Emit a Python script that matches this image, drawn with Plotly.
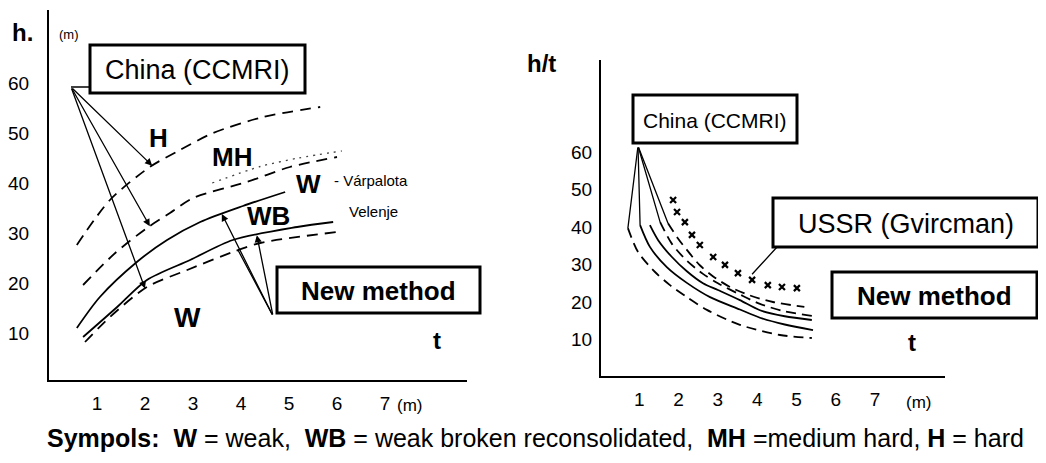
import numpy as np
import plotly.graph_objects as go

W, H = 1046, 463
OFF = 8                      # default page margin of the html body
FW, FH = W - OFF, H - OFF    # figure size so that it fills the window

# ---------------- data ----------------
x_tick_vals = [1, 2, 3, 4, 5, 6, 7]
y_tick_vals = [10, 20, 30, 40, 50, 60]

# left panel : h [m] against t [m]
left_H_x = [0.58, 1.27, 2.10, 2.73, 3.42, 4.46, 5.65]
left_H_y = [27.6, 36.6, 43.2, 46.6, 50.0, 53.2, 55.2]
left_MH_x = [0.71, 1.38, 2.04, 2.52, 3.00, 4.12, 5.02, 6.00]
left_MH_y = [19.6, 26.0, 31.0, 34.0, 37.0, 40.2, 43.2, 45.2]
left_Varpalota_x = [3.4, 4.4, 5.2, 6.1]
left_Varpalota_y = [40.0, 43.3, 45.0, 46.4]
left_WB_x = [0.58, 1.06, 1.83, 2.46, 3.15, 4.04, 4.92]
left_WB_y = [11.0, 17.2, 24.2, 28.6, 32.2, 35.4, 38.2]
left_W_x = [0.71, 1.42, 2.04, 2.94, 3.83, 5.17, 5.92]
left_W_y = [9.2, 15.2, 20.6, 24.6, 28.6, 31.2, 32.2]
left_Velenje_x = [0.75, 1.27, 2.04, 2.88, 3.83, 4.40, 6.00]
left_Velenje_y = [8.2, 13.2, 19.2, 22.6, 26.2, 28.0, 30.2]

# right panel : h/t against t [m]
right_USSR_x = [1.86, 1.96, 2.16, 2.34, 2.54, 2.88, 3.18, 3.51, 3.87, 4.27, 4.63, 5.01]
right_USSR_y = [47.2, 44.0, 41.3, 37.9, 35.2, 32.0, 29.9, 27.7, 25.9, 24.5, 24.0, 23.7]
right_D1_x = [1.73, 1.98, 2.21, 2.54, 2.88, 3.31, 3.80, 4.40, 5.20]
right_D1_y = [41.0, 37.0, 33.9, 29.8, 26.8, 24.0, 21.8, 20.0, 18.7]
right_D2_x = [1.53, 1.83, 2.21, 2.62, 3.00, 3.56, 4.07, 4.70, 5.40]
right_D2_y = [41.3, 35.5, 31.0, 27.5, 25.0, 22.0, 19.5, 17.5, 16.3]
right_S3_x = [1.27, 1.48, 1.83, 2.21, 2.62, 3.00, 3.56, 4.07, 4.70, 5.39]
right_S3_y = [40.5, 36.5, 32.0, 28.2, 25.0, 23.2, 20.5, 17.8, 16.2, 15.2]
right_S4_x = [1.02, 1.27, 1.70, 2.21, 2.80, 3.56, 4.07, 4.70, 5.42]
right_S4_y = [40.5, 34.7, 29.3, 25.1, 21.3, 18.0, 15.8, 14.0, 12.5]
right_D5_x = [0.71, 0.97, 1.40, 1.78, 2.21, 2.72, 3.56, 4.58, 5.39]
right_D5_y = [39.7, 33.3, 28.0, 24.5, 21.3, 17.9, 13.9, 11.2, 10.4]

# ---------------- layout helpers ----------------
FONT = "Liberation Sans, Arial, sans-serif"
TICKFONT = "Liberation Sans, Arial, sans-serif"


def fx(px):
    return (px - OFF) / FW


def fy(py):
    return 1 - (py - OFF) / FH


# pixel <-> data scales of the two panels
L_X0, L_XS, L_Y0, L_YS = 49, 48.0, 383, 5.0
R_X0, R_XS, R_Y0, R_YS = 600, 39.3, 377, 3.75


def l_data(px, py):
    return (px - L_X0) / L_XS, (L_Y0 - py) / L_YS


def r_data(px, py):
    return (px - R_X0) / R_XS, (R_Y0 - py) / R_YS


def on_curve(xs, ys, x):
    return x, float(np.interp(x, xs, ys))


fig = go.Figure()

DASH_L = "11px,7px"
DASH_R = "10px,6px"


def line(xs, ys, ax, dash="solid", width=1.8, color="black"):
    fig.add_trace(go.Scatter(
        x=xs, y=ys, mode="lines", xaxis=ax[0], yaxis=ax[1],
        line=dict(color=color, width=width, dash=dash, shape="spline", smoothing=0.8),
        hoverinfo="skip", showlegend=False))


LA = ("x", "y")
RA = ("x2", "y2")
line(left_H_x, left_H_y, LA, DASH_L)
line(left_MH_x, left_MH_y, LA, DASH_L)
line(left_Varpalota_x, left_Varpalota_y, LA, "2px,5px", 1.3, "#444")
line(left_WB_x, left_WB_y, LA)
line(left_W_x, left_W_y, LA)
line(left_Velenje_x, left_Velenje_y, LA, DASH_L)

line(right_D1_x, right_D1_y, RA, DASH_R)
line(right_D2_x, right_D2_y, RA, DASH_R)
line(right_S3_x, right_S3_y, RA)
line(right_S4_x, right_S4_y, RA)
line(right_D5_x, right_D5_y, RA, DASH_R)
fig.add_trace(go.Scatter(
    x=right_USSR_x, y=right_USSR_y, mode="markers", xaxis="x2", yaxis="y2",
    marker=dict(symbol="x-thin", size=6, line=dict(color="black", width=2.2)),
    hoverinfo="skip", showlegend=False))

annotations = []
shapes = []


def leader(tip, tail, xref, yref, head=True):
    annotations.append(dict(
        x=tip[0], y=tip[1], ax=tail[0], ay=tail[1], xref=xref, yref=yref,
        axref=xref, ayref=yref, text="", showarrow=True,
        arrowhead=2 if head else 0, arrowsize=1.1, arrowwidth=1.3, arrowcolor="black"))


# left leaders from China (CCMRI)
P = l_data(71, 87)
leader(on_curve(left_H_x, left_H_y, 2.15), P, "x", "y")
leader(on_curve(left_MH_x, left_MH_y, 2.10), P, "x", "y")
leader(on_curve(left_Velenje_x, left_Velenje_y, 2.00), P, "x", "y")
# left leaders from New method
Q = l_data(273, 316)
leader(on_curve(left_WB_x, left_WB_y, 3.60), Q, "x", "y")
leader(on_curve(left_Velenje_x, left_Velenje_y, 3.94), Q, "x", "y", head=False)
leader(on_curve(left_W_x, left_W_y, 4.33), Q, "x", "y")

# right leaders from China (CCMRI)
R = r_data(638, 146)
for xs, ys in [(right_D5_x, right_D5_y), (right_S4_x, right_S4_y),
               (right_D2_x, right_D2_y), (right_D1_x, right_D1_y)]:
    leader((xs[0], ys[0]), R, "x2", "y2", head=False)
# USSR leader
U = r_data(778, 246)
leader((right_USSR_x[8], right_USSR_y[8] + 1.5), U, "x2", "y2", head=False)

# short connector from the leader point to the left China box
shapes.append(dict(type="line", xref="paper", yref="paper",
                   x0=fx(71), y0=fy(87), x1=fx(90), y1=fy(87),
                   line=dict(color="black", width=1.5)))


def box(x0, y0, x1, y1, text, size, bold=False, cx=None):
    shapes.append(dict(type="rect", xref="paper", yref="paper",
                       x0=fx(x0), y0=fy(y1), x1=fx(x1), y1=fy(y0),
                       line=dict(color="black", width=3), fillcolor="white", layer="above"))
    t = f"<b>{text}</b>" if bold else text
    annotations.append(dict(x=fx(cx if cx else (x0 + x1) / 2), y=fy((y0 + y1) / 2 + 1),
                            xref="paper", yref="paper", text=t, showarrow=False,
                            font=dict(size=size, color="black", family=FONT),
                            xanchor="center", yanchor="middle"))


box(90, 45, 305, 93, "China (CCMRI)", 27)
box(277, 267, 480, 313, "New method", 26, bold=True)
box(633, 95, 797, 143, "China (CCMRI)", 21)
box(773, 198, 1038, 247, "USSR (Gvircman)", 27)
box(832, 272, 1037, 318, "New method", 26, bold=True)


def label(px, py, text, size, bold=False, xanchor="center", family=FONT):
    annotations.append(dict(x=fx(px), y=fy(py), xref="paper", yref="paper",
                            text=f"<b>{text}</b>" if bold else text, showarrow=False,
                            font=dict(size=size, color="black", family=family),
                            xanchor=xanchor, yanchor="middle"))


label(158, 138, "H", 26, True)
label(232, 157, "MH", 26, True)
label(308, 184, "W", 26, True)
label(268, 216, "WB", 26, True)
label(187, 317, "W", 28, True)
label(332, 180, "- Várpalota", 15, xanchor="left")
label(347, 212, "Velenje", 15, xanchor="left")
label(22, 32, "h.", 24, True)
label(69, 34, "(m)", 13)
label(437, 340, "t", 24, True)
label(409, 405, "(m)", 17, family=TICKFONT)
label(541, 63, "h/t", 24, True)
label(912, 342, "t", 24, True)
label(918, 402, "(m)", 17, family=TICKFONT)

nb = "\u00a0"
footer = (f"<b>Sympols:</b>{nb}{nb}<b>W</b> = weak,{nb}{nb}<b>WB</b> = weak broken reconsolidated,"
          f"{nb}{nb}<b>MH</b> =medium hard, <b>H</b> = hard")
label(45, 438, footer, 25, xanchor="left")

axis_common = dict(showline=True, linecolor="black", linewidth=2, showgrid=False,
                   zeroline=False, ticks="", automargin=False,
                   tickfont=dict(size=19, color="black", family=TICKFONT),
                   fixedrange=True)

fig.update_layout(
    width=FW, height=FH, margin=dict(l=0, r=0, t=0, b=0, autoexpand=False),
    paper_bgcolor="white", plot_bgcolor="white", showlegend=False,
    font=dict(family=FONT, color="black"),
    xaxis=dict(domain=[fx(49), fx(467)], range=[0, (467 - L_X0) / L_XS], anchor="y",
               tickvals=x_tick_vals, ticklabelstandoff=5, **axis_common),
    yaxis=dict(domain=[fy(380), fy(10)], range=[(L_Y0 - 380) / L_YS, (L_Y0 - 10) / L_YS],
               anchor="x", tickvals=y_tick_vals, ticklabelstandoff=14, **axis_common),
    xaxis2=dict(domain=[fx(601), fx(945)], range=[(601 - R_X0) / R_XS, (945 - R_X0) / R_XS],
                anchor="y2", tickvals=x_tick_vals, ticklabelstandoff=5, **axis_common),
    yaxis2=dict(domain=[fy(376), fy(60)], range=[(R_Y0 - 376) / R_YS, (R_Y0 - 60) / R_YS],
                anchor="x2", tickvals=y_tick_vals, ticklabelstandoff=3, **axis_common),
    annotations=annotations, shapes=shapes,
)

fig.write_html("out.html")
